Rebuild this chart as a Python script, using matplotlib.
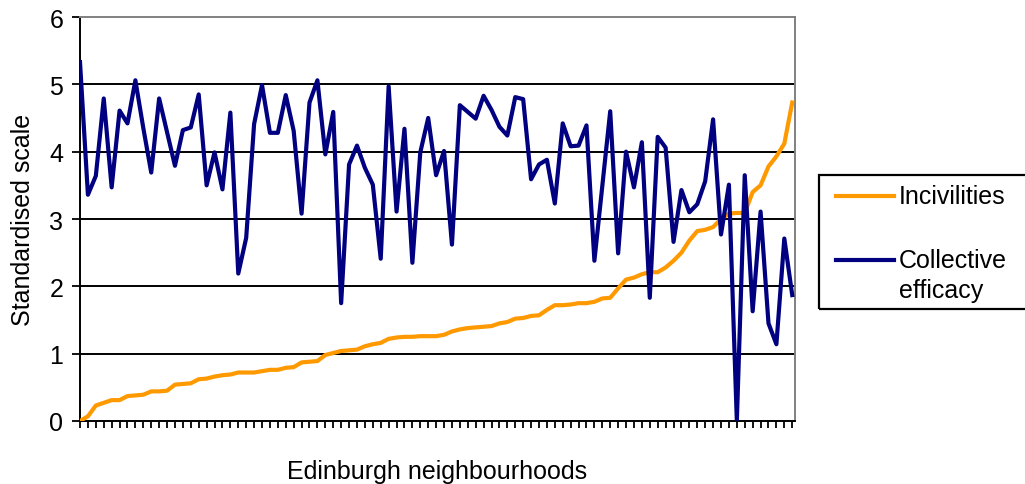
import matplotlib
matplotlib.use("Agg")
import matplotlib.pyplot as plt
from matplotlib.patches import Rectangle
from matplotlib.legend_handler import HandlerLine2D
import numpy as np

plt.rcParams['font.family'] = ['Liberation Sans', 'DejaVu Sans']

incivilities = [
    0.00, 0.07, 0.23, 0.27, 0.31, 0.31, 0.37, 0.38, 0.39, 0.44,
    0.44, 0.45, 0.54, 0.55, 0.56, 0.62, 0.63, 0.66, 0.68, 0.69,
    0.72, 0.72, 0.72, 0.74, 0.76, 0.76, 0.79, 0.80, 0.87, 0.88,
    0.89, 0.98, 1.01, 1.04, 1.05, 1.06, 1.11, 1.14, 1.16, 1.22,
    1.24, 1.25, 1.25, 1.26, 1.26, 1.26, 1.28, 1.33, 1.36, 1.38,
    1.39, 1.40, 1.41, 1.45, 1.47, 1.52, 1.53, 1.56, 1.57, 1.65,
    1.72, 1.72, 1.73, 1.75, 1.75, 1.77, 1.82, 1.83, 1.97, 2.10,
    2.13, 2.18, 2.21, 2.21, 2.28, 2.38, 2.50, 2.68, 2.82, 2.84,
    2.88, 3.00, 3.08, 3.09, 3.09, 3.40, 3.50, 3.78, 3.93, 4.12,
    4.73,
]

collective_efficacy = [
    5.33, 3.36, 3.64, 4.79, 3.47, 4.61, 4.42, 5.06, 4.35, 3.69,
    4.79, 4.29, 3.79, 4.32, 4.36, 4.85, 3.50, 3.99, 3.44, 4.58,
    2.19, 2.72, 4.41, 4.99, 4.28, 4.28, 4.84, 4.31, 3.08, 4.73,
    5.06, 3.96, 4.59, 1.75, 3.81, 4.09, 3.76, 3.51, 2.41, 4.97,
    3.11, 4.34, 2.35, 3.99, 4.50, 3.65, 4.01, 2.62, 4.69, 4.59,
    4.49, 4.83, 4.62, 4.37, 4.24, 4.81, 4.78, 3.59, 3.81, 3.88,
    3.23, 4.42, 4.08, 4.09, 4.39, 2.38, 3.49, 4.60, 2.49, 4.00,
    3.47, 4.14, 1.83, 4.22, 4.06, 2.66, 3.43, 3.10, 3.22, 3.56,
    4.48, 2.77, 3.51, 0.00, 3.65, 1.63, 3.11, 1.45, 1.14, 2.71,
    1.87,
]

series_names = ["Incivilities", "Collective\nefficacy"]
y_ticks = [0, 1, 2, 3, 4, 5, 6]
x_label = "Edinburgh neighbourhoods"
y_label = "Standardised scale"


class ShiftedLineHandler(HandlerLine2D):
    def __init__(self, dy=0.0, **kw):
        super().__init__(**kw)
        self.dy = dy

    def create_artists(self, legend, orig_handle, xdescent, ydescent,
                       width, height, fontsize, trans):
        arts = super().create_artists(legend, orig_handle, xdescent, ydescent,
                                      width, height, fontsize, trans)
        for a in arts:
            a.set_ydata(np.asarray(a.get_ydata(), dtype=float) + self.dy)
        return arts


FS = 18
W, H = 1025, 485
fig = plt.figure(figsize=(W / 100, H / 100), dpi=100)
left, right, top, bottom = 80, 795, 18, 422
ax = fig.add_axes([left / W, 1 - bottom / H, (right - left) / W, (bottom - top) / H])

x = np.arange(len(incivilities))
l1, = ax.plot(x, incivilities, color='#FF9900', lw=3.0, solid_joinstyle='round', zorder=3)
l2, = ax.plot(x, collective_efficacy, color='#000080', lw=3.0, solid_joinstyle='round', zorder=4)

ax.set_xlim(0, len(x) - 1 + 0.35)
ax.set_ylim(0, 6)
ax.set_yticks(y_ticks)
ax.set_xticks(x)
ax.set_xticklabels([])
ax.tick_params(axis='x', direction='out', length=5, width=1.3, color='black')
ax.tick_params(axis='y', direction='out', length=6, width=1.3, color='black',
               labelsize=FS, pad=6)
for yv in y_ticks[1:-1]:
    ax.axhline(yv, color='black', lw=1.4, zorder=1)

ax.spines['left'].set_color('black')
ax.spines['left'].set_linewidth(1.4)
ax.spines['bottom'].set_color('black')
ax.spines['bottom'].set_linewidth(1.4)
ax.spines['top'].set_color('#808080')
ax.spines['top'].set_linewidth(1.4)
ax.spines['right'].set_color('#808080')
ax.spines['right'].set_linewidth(1.4)

ax.set_xlabel(x_label, fontsize=FS, labelpad=19)
ax.set_ylabel(y_label, fontsize=FS, labelpad=10)

# legend frame drawn separately
bx0, by0, bx1, by1 = 819, 176, 1032, 310
fig.patches.append(Rectangle((bx0 / W, 1 - by1 / H), (bx1 - bx0) / W, (by1 - by0) / H,
                             transform=fig.transFigure, fill=False,
                             edgecolor='black', linewidth=1.6))

leg = fig.legend([l1, l2], series_names, loc='upper left',
                 bbox_to_anchor=(836 / W, 1 - 185 / H), fontsize=FS,
                 frameon=False,
                 handlelength=2.32, handletextpad=0.2, borderpad=0,
                 labelspacing=1.6, borderaxespad=0,
                 handler_map={l1: ShiftedLineHandler(dy=-1.5),
                              l2: ShiftedLineHandler(dy=11.0)})
for t in leg.get_texts():
    t.set_linespacing(1.3)

fig.savefig('out.png', dpi=100)
